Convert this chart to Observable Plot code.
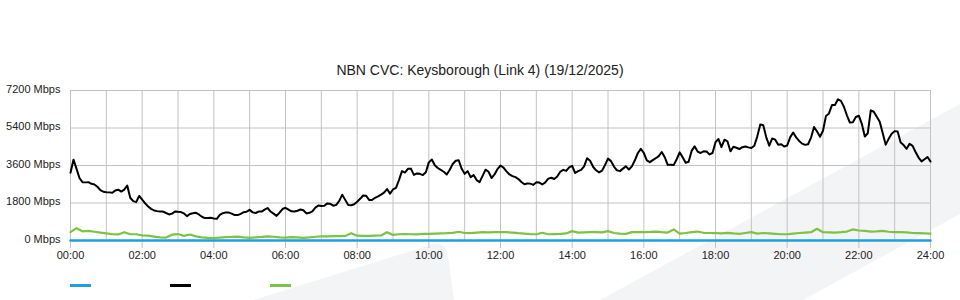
<!DOCTYPE html>
<html>
<head>
<meta charset="utf-8">
<script src="https://cdn.jsdelivr.net/npm/d3@7"></script>
<script src="https://cdn.jsdelivr.net/npm/@observablehq/plot@0.6"></script>
<style>
  html, body { margin: 0; padding: 0; background: #fff; }
  body { width: 960px; height: 300px; position: relative; overflow: hidden; font-family: "Liberation Sans", Arial, sans-serif; }
  #wm { position: absolute; left: 0; top: 0; z-index: 0; }
  #wrap { position: relative; z-index: 1; }
  #title { height: 80px; box-sizing: border-box; padding-top: 62px; text-align: center; font-size: 14px; line-height: 16px; color: #222; }
  #legend { position: relative; height: 25px; }
  .sw { position: absolute; top: 9px; width: 21px; height: 2.5px; }
</style>
</head>
<body>
<svg id="wm" width="960" height="300" viewBox="0 0 960 300">
  <path d="M253,300 L430,245 Q445,240 448,256 L454,300 Z" fill="#f3f4f6"/>
  <path d="M600,300 L960,104 L960,214 L803,300 Z" fill="#f3f4f6"/>
</svg>
<div id="wrap">
  <div id="title">NBN CVC: Keysborough (Link 4) (19/12/2025)</div>
  <div id="chart"></div>
  <div id="legend"></div>
</div>
<script>
const titleText = "NBN CVC: Keysborough (Link 4) (19/12/2025)";
const yTicks = [0, 1800, 3600, 5400, 7200];
const xTicks = [0, 2, 4, 6, 8, 10, 12, 14, 16, 18, 20, 22, 24];
const seriesNames = ["blue", "black", "green"];
const seriesColors = ["#1e9fe0", "#000000", "#7dc242"];

// black series, every 5 minutes from 00:00 to 24:00 (Mbps)
const blackStepMin = 5;
const blackValues = [
  3250, 3880, 3450, 3000, 2800, 2790, 2800, 2720, 2690, 2580, 2420, 2340,
  2320, 2310, 2290, 2400, 2440, 2350, 2440, 2640, 2050, 1890, 1840, 2140,
  1960, 1780, 1630, 1520, 1440, 1410, 1390, 1390, 1320, 1250, 1290, 1390,
  1375, 1365, 1300, 1170, 1270, 1310, 1330, 1250, 1140, 1075, 1080, 1090,
  1060, 1040, 1230, 1310, 1350, 1340, 1290, 1220, 1220, 1280, 1360, 1385,
  1470, 1350, 1320, 1390, 1390, 1480, 1560, 1390, 1290, 1180, 1340, 1510,
  1570, 1480, 1400, 1390, 1430, 1490, 1450, 1300, 1330, 1400, 1580, 1680,
  1655, 1670, 1780, 1760, 1670, 1710, 1900, 2200, 1950, 1700, 1690, 1740,
  1860, 2000, 2160, 2150, 1950, 1950, 2050, 2120, 2200, 2300, 2470, 2250,
  2450, 2530, 2900, 3330, 3260, 3440, 3450, 3150, 3220, 3200, 3140, 3280,
  3750, 3890, 3610, 3480, 3390, 3300, 3170, 3400, 3670, 3830, 3850, 3440,
  3200, 3330, 3040, 3140, 2900, 2800, 3100, 3400, 3300, 3000, 3170, 3430,
  3600, 3500, 3320, 3170, 3090, 3040, 2950, 2810, 2700, 2740, 2730, 2670,
  2800, 2780, 2690, 2790, 2970, 3010, 2950, 3070, 3300, 3390, 3340, 3510,
  3580, 3240, 3330, 3390, 3560, 3950, 3830, 3540, 3370, 3270, 3350, 3620,
  3930, 3810, 3550, 3370, 3330, 3450, 3560, 3410, 3560, 3850, 4200, 4400,
  4200, 3850, 3760, 3860, 3950, 4050, 4250, 4000, 3630, 3640, 3620, 3900,
  4230, 4000, 3730, 3780, 4300, 4520, 4270, 4200, 4280, 4270, 4130, 4200,
  4720, 4870, 4480, 4840, 4760, 4280, 4500, 4450, 4390, 4480, 4510, 4470,
  4440, 4550, 5000, 5570, 5530, 4950, 4550, 4900, 4840, 4600, 4620, 4510,
  4560, 4950, 5180, 4950, 4780, 4650, 4590, 4620, 4940, 5450, 5230, 4980,
  5270, 5980, 6100, 6500, 6500, 6780, 6700, 6420, 6010, 5660, 5680, 5930,
  5990, 5600, 4990, 5150, 6250, 6180, 5940, 5700, 5150, 4600, 4880, 5120,
  5250, 5230, 4700, 4580, 4400, 4640, 4540, 4250, 3980, 3800, 3900, 4010,
  3790
];

// green series, every 10 minutes (Mbps)
const greenStepMin = 10;
const greenValues = [
  400, 590, 440, 460, 420, 380,
  340, 300, 290, 400, 300, 300,
  250, 230, 190, 150, 140, 280,
  310, 220, 290, 200, 150, 130,
  120, 140, 160, 170, 190, 150,
  130, 150, 170, 200, 180, 150,
  140, 160, 150, 130, 150, 180,
  200, 200, 210, 210, 220, 350,
  230, 220, 220, 230, 240, 400,
  270, 300, 310, 300, 290, 320,
  320, 330, 340, 350, 370, 420,
  360, 350, 380, 400, 390, 400,
  400, 400, 380, 350, 330, 310,
  300, 370, 300, 310, 320, 340,
  450, 380, 390, 400, 400, 390,
  450, 360, 330, 320, 400, 400,
  400, 410, 430, 400, 380, 530,
  330, 360, 400, 430, 370, 360,
  350, 340, 370, 340, 320, 360,
  400, 330, 360, 340, 320, 300,
  300, 330, 360, 380, 400, 560,
  400, 390, 380, 400, 430, 530,
  480, 460, 430, 440, 460, 420,
  400, 400, 390, 360, 350, 340,
  330
];

// blue series: flat zero
const blueTimes = [0, 24];
const blueValues = [0, 0];

const black = blackValues.map((v, i) => ({h: i * blackStepMin / 60, v}));
const green = greenValues.map((v, i) => ({h: i * greenStepMin / 60, v}));
const blue = blueValues.map((v, i) => ({h: blueTimes[i], v}));

const fmtX = d => String(d).padStart(2, "0") + ":00";
const gridColor = "#c2c2c2";

const chart = Plot.plot({
  width: 960,
  height: 195,
  marginLeft: 70,
  marginRight: 30,
  marginTop: 10,
  marginBottom: 35,
  style: {background: "transparent", fontFamily: "'Liberation Sans', Arial, sans-serif", fontSize: "11px", color: "#222"},
  x: {domain: [0, 24], label: null},
  y: {domain: [0, 7200], label: null},
  marks: [
    Plot.gridY(yTicks, {stroke: gridColor, strokeOpacity: 1}),
    Plot.gridX(d3.range(0, 25), {stroke: gridColor, strokeOpacity: 1}),
    Plot.axisY(yTicks, {label: null, tickSize: 0, tickPadding: 10, dy: -1.5, tickFormat: d => d + " Mbps", fill: "#222", fontSize: 11}),
    Plot.axisX(xTicks, {label: null, tickSize: 8, tickPadding: 3, tickFormat: fmtX, stroke: gridColor, fill: "#222", fontSize: 11}),
    Plot.line(green, {x: "h", y: "v", stroke: seriesColors[2], strokeWidth: 2.2}),
    Plot.line(black, {x: "h", y: "v", stroke: seriesColors[1], strokeWidth: 2}),
    Plot.line(blue, {x: "h", y: "v", stroke: seriesColors[0], strokeWidth: 2.5})
  ]
});
document.getElementById("chart").appendChild(chart);

const legend = document.getElementById("legend");
seriesNames.forEach((name, i) => {
  const s = document.createElement("div");
  s.className = "sw";
  s.style.left = (70 + i * 100) + "px";
  s.style.background = seriesColors[i];
  s.title = name;
  legend.appendChild(s);
});
</script>
</body>
</html>
